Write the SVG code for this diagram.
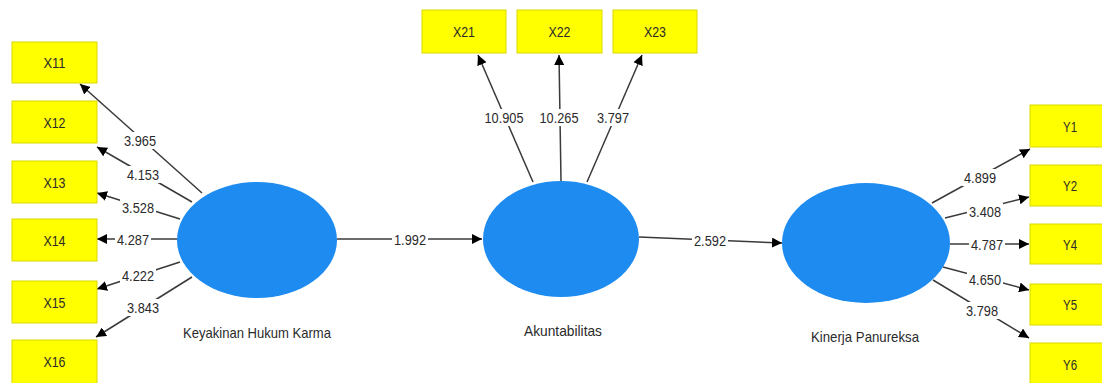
<svg xmlns="http://www.w3.org/2000/svg" width="1102" height="383" viewBox="0 0 1102 383">
<style>
.ind rect{fill:#FFFF00;stroke:#D8D800;stroke-width:1}
.ind text,.lv text,.lbl text{font-family:"Liberation Sans",Arial,sans-serif;font-size:15px;fill:#2a2a2a;text-anchor:middle}
.lv ellipse{fill:#1E8BF0}
.conn line{stroke:#3a3a3a;stroke-width:1.5;marker-end:url(#arr)}
.lbl rect{fill:#ffffff}
</style>
<defs>
<marker id="arr" markerUnits="userSpaceOnUse" markerWidth="12" markerHeight="10" refX="10" refY="5" orient="auto">
<path d="M0,0 L10,5 L0,10 z" fill="#000"/>
</marker>
</defs>
<rect x="0" y="0" width="1102" height="383" fill="#ffffff"/>

<g id="connectors" class="conn">
<line x1="202" y1="193" x2="80" y2="84"/>
<line x1="192" y1="202" x2="97" y2="147"/>
<line x1="180" y1="219" x2="97" y2="193"/>
<line x1="177" y1="239" x2="97" y2="239"/>
<line x1="180" y1="262" x2="97" y2="289"/>
<line x1="192" y1="277" x2="96" y2="337"/>
<line x1="533" y1="182" x2="478" y2="55"/>
<line x1="561" y1="181" x2="559" y2="55"/>
<line x1="587" y1="182" x2="642" y2="55"/>
<line x1="337" y1="239" x2="482" y2="239"/>
<line x1="639" y1="237" x2="782" y2="243"/>
<line x1="932" y1="203" x2="1030" y2="149"/>
<line x1="945" y1="218" x2="1029" y2="197"/>
<line x1="950" y1="244" x2="1029" y2="244"/>
<line x1="943" y1="267" x2="1029" y2="290"/>
<line x1="933" y1="280" x2="1029" y2="338"/>
</g>

<g id="labels" class="lbl">
<rect x="122" y="132" width="36" height="17"/><text x="140" y="145.5" textLength="32" lengthAdjust="spacingAndGlyphs">3.965</text>
<rect x="125" y="166" width="36" height="17"/><text x="143" y="179.5" textLength="32" lengthAdjust="spacingAndGlyphs">4.153</text>
<rect x="120" y="199" width="36" height="17"/><text x="138" y="212.5" textLength="32" lengthAdjust="spacingAndGlyphs">3.528</text>
<rect x="115" y="231" width="36" height="17"/><text x="133" y="244.5" textLength="32" lengthAdjust="spacingAndGlyphs">4.287</text>
<rect x="120" y="267" width="36" height="17"/><text x="138" y="280.5" textLength="32" lengthAdjust="spacingAndGlyphs">4.222</text>
<rect x="125" y="299" width="36" height="17"/><text x="143" y="312.5" textLength="32" lengthAdjust="spacingAndGlyphs">3.843</text>
<rect x="482" y="109" width="44" height="17"/><text x="504" y="122.5" textLength="39" lengthAdjust="spacingAndGlyphs">10.905</text>
<rect x="537" y="109" width="44" height="17"/><text x="559" y="122.5" textLength="39" lengthAdjust="spacingAndGlyphs">10.265</text>
<rect x="595" y="109" width="36" height="17"/><text x="613" y="122.5" textLength="32" lengthAdjust="spacingAndGlyphs">3.797</text>
<rect x="392" y="231" width="36" height="17"/><text x="410" y="244.5" textLength="32" lengthAdjust="spacingAndGlyphs">1.992</text>
<rect x="692" y="232" width="36" height="17"/><text x="710" y="245.5" textLength="32" lengthAdjust="spacingAndGlyphs">2.592</text>
<rect x="962" y="169" width="36" height="17"/><text x="980" y="182.5" textLength="32" lengthAdjust="spacingAndGlyphs">4.899</text>
<rect x="967" y="203" width="36" height="17"/><text x="985" y="216.5" textLength="32" lengthAdjust="spacingAndGlyphs">3.408</text>
<rect x="969" y="236" width="36" height="17"/><text x="987" y="249.5" textLength="32" lengthAdjust="spacingAndGlyphs">4.787</text>
<rect x="967" y="271" width="36" height="17"/><text x="985" y="284.5" textLength="32" lengthAdjust="spacingAndGlyphs">4.650</text>
<rect x="964" y="302" width="36" height="17"/><text x="982" y="315.5" textLength="32" lengthAdjust="spacingAndGlyphs">3.798</text>
</g>

<g id="X11" class="ind"><rect x="12" y="42" width="85" height="41"/><text x="54.5" y="68" textLength="22" lengthAdjust="spacingAndGlyphs">X11</text></g>
<g id="X12" class="ind"><rect x="12" y="101" width="85" height="42"/><text x="54.5" y="128" textLength="22" lengthAdjust="spacingAndGlyphs">X12</text></g>
<g id="X13" class="ind"><rect x="12" y="161" width="85" height="42"/><text x="54.5" y="188" textLength="22" lengthAdjust="spacingAndGlyphs">X13</text></g>
<g id="X14" class="ind"><rect x="12" y="219" width="85" height="42"/><text x="54.5" y="246" textLength="22" lengthAdjust="spacingAndGlyphs">X14</text></g>
<g id="X15" class="ind"><rect x="12" y="281" width="85" height="42"/><text x="54.5" y="308" textLength="22" lengthAdjust="spacingAndGlyphs">X15</text></g>
<g id="X16" class="ind"><rect x="12" y="340" width="85" height="45"/><text x="54.5" y="367" textLength="22" lengthAdjust="spacingAndGlyphs">X16</text></g>

<g id="X21" class="ind"><rect x="422" y="10" width="84" height="43"/><text x="464" y="37" textLength="22" lengthAdjust="spacingAndGlyphs">X21</text></g>
<g id="X22" class="ind"><rect x="517" y="10" width="85" height="43"/><text x="559.5" y="37" textLength="22" lengthAdjust="spacingAndGlyphs">X22</text></g>
<g id="X23" class="ind"><rect x="613" y="10" width="84" height="43"/><text x="655" y="37" textLength="22" lengthAdjust="spacingAndGlyphs">X23</text></g>

<g id="Y1" class="ind"><rect x="1030" y="105" width="85" height="42"/><text x="1070" y="132" textLength="14" lengthAdjust="spacingAndGlyphs">Y1</text></g>
<g id="Y2" class="ind"><rect x="1030" y="165" width="85" height="41"/><text x="1070" y="191" textLength="14" lengthAdjust="spacingAndGlyphs">Y2</text></g>
<g id="Y4" class="ind"><rect x="1030" y="224" width="85" height="40"/><text x="1070" y="250" textLength="14" lengthAdjust="spacingAndGlyphs">Y4</text></g>
<g id="Y5" class="ind"><rect x="1030" y="284" width="85" height="41"/><text x="1070" y="310" textLength="14" lengthAdjust="spacingAndGlyphs">Y5</text></g>
<g id="Y6" class="ind"><rect x="1030" y="343" width="85" height="42"/><text x="1070" y="370" textLength="14" lengthAdjust="spacingAndGlyphs">Y6</text></g>

<g id="KeyakinanHukumKarma" class="lv"><ellipse cx="257" cy="240" rx="80" ry="58"/><text x="257" y="338" textLength="148" lengthAdjust="spacingAndGlyphs">Keyakinan Hukum Karma</text></g>
<g id="Akuntabilitas" class="lv"><ellipse cx="561" cy="239" rx="78" ry="58"/><text x="563" y="336" textLength="78" lengthAdjust="spacingAndGlyphs">Akuntabilitas</text></g>
<g id="KinerjaPanureksa" class="lv"><ellipse cx="866" cy="243" rx="84" ry="60"/><text x="865" y="342" textLength="108" lengthAdjust="spacingAndGlyphs">Kinerja Panureksa</text></g>
</svg>
